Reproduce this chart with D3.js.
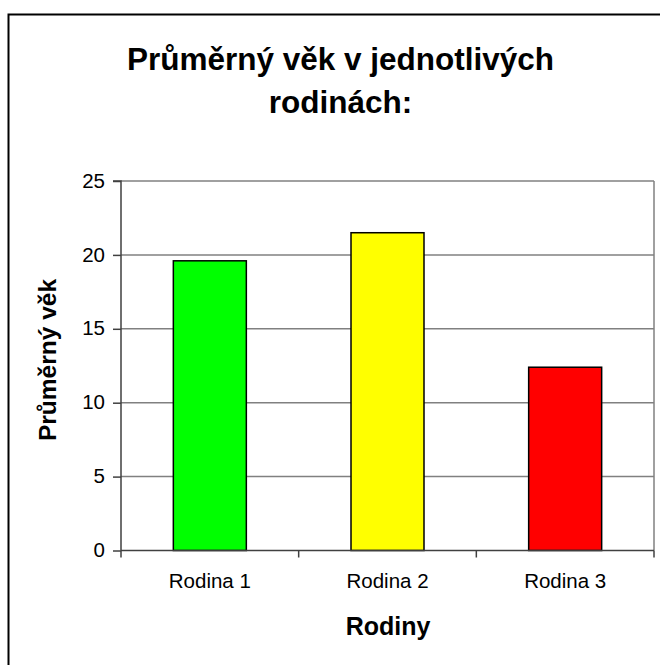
<!DOCTYPE html>
<html><head><meta charset="utf-8">
<script src="https://cdn.jsdelivr.net/npm/d3@7"></script>
<style>html,body{margin:0;padding:0;background:#fff;}svg{display:block;font-family:Arial,"Liberation Sans",sans-serif;}</style>
</head><body>
<svg id="c" width="660" height="665"></svg>
<script>
const categories = ["Rodina 1", "Rodina 2", "Rodina 3"];
const values = [19.6, 21.5, 12.4];
const colors = ["#00ff00", "#ffff00", "#ff0000"];
const yTicks = [0, 5, 10, 15, 20, 25];
const titleLines = ["Průměrný věk v jednotlivých", "rodinách:"];
const xTitle = "Rodiny";
const yTitle = "Průměrný věk";

const FONT = "Arial, 'Liberation Sans', sans-serif";
const svg = d3.select("#c");
// outer chart frame (extends past right/bottom edge)
svg.append("rect").attr("x", 8.5).attr("y", 14.5).attr("width", 700).attr("height", 700)
  .attr("fill", "#fff").attr("stroke", "#000").attr("stroke-width", 2);

const L = 121, R = 654, T = 181, B = 550.5;
const xb = d3.scaleBand().domain(categories).range([L, R]);
const y = d3.scaleLinear().domain([0, 25]).range([B, T]);

// gridlines
svg.append("g").selectAll("line").data(yTicks.filter(d => d > 0)).join("line")
  .attr("x1", L).attr("x2", R).attr("y1", d => y(d)).attr("y2", d => y(d))
  .attr("stroke", "#808080").attr("stroke-width", 1.5);
// right plot border
svg.append("line").attr("x1", R).attr("x2", R).attr("y1", T).attr("y2", B)
  .attr("stroke", "#808080").attr("stroke-width", 1.5);

// bars
svg.append("g").selectAll("rect").data(values).join("rect")
  .attr("x", (d, i) => xb(categories[i]) + xb.bandwidth() / 2 - 36.5)
  .attr("width", 73)
  .attr("y", d => y(d)).attr("height", d => B - y(d))
  .attr("fill", (d, i) => colors[i]).attr("stroke", "#000").attr("stroke-width", 1.5);

// y axis
const yAxis = d3.axisLeft(y).tickValues(yTicks).tickSize(8).tickPadding(8).tickFormat(d3.format("d"));
const gy = svg.append("g").attr("transform", `translate(${L},0)`).call(yAxis);
gy.select(".domain").attr("stroke", "#404040").attr("stroke-width", 1.5).attr("d", `M-8,${T}H0V${B}`);
gy.selectAll(".tick line").attr("stroke", "#404040").attr("stroke-width", 1.5);
gy.selectAll(".tick text").attr("font-size", 20.5).attr("fill", "#000").attr("font-family", FONT).attr("dy", "0.3em");

// x axis
const xAxis = d3.axisBottom(xb).tickSize(0);
const gx = svg.append("g").attr("transform", `translate(0,${B})`).call(xAxis);
gx.select(".domain").attr("stroke", "#404040").attr("stroke-width", 1.5).attr("d", `M${L},0H${R}`);
gx.selectAll(".tick text").attr("font-size", 20.5).attr("fill", "#000").attr("font-family", FONT)
  .attr("y", 37.5).attr("dy", 0);
// category boundary ticks
svg.append("g").selectAll("line").data(categories.concat(["end"])).join("line")
  .attr("x1", (d, i) => L + i * xb.step()).attr("x2", (d, i) => L + i * xb.step())
  .attr("y1", B).attr("y2", B + 7).attr("stroke", "#404040").attr("stroke-width", 1.5);

// titles
svg.append("g").selectAll("text").data(titleLines).join("text")
  .attr("x", 340.5).attr("y", (d, i) => 69.5 + i * 43)
  .attr("text-anchor", "middle").attr("font-size", 31.5).attr("font-weight", "bold").text(d => d);
svg.append("text").attr("x", 388).attr("y", 635).attr("text-anchor", "middle")
  .attr("font-size", 25).attr("font-weight", "bold").text(xTitle);
svg.append("text").attr("transform", `translate(56,360) rotate(-90)`)
  .attr("text-anchor", "middle").attr("font-size", 24.5).attr("font-weight", "bold").text(yTitle);
</script>
</body></html>
